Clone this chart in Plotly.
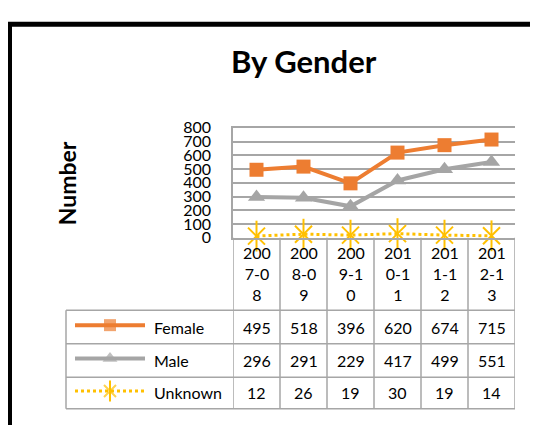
import plotly.graph_objects as go

periods = ["2007-08", "2008-09", "2009-10", "2010-11", "2011-12", "2012-13"]
female = [495, 518, 396, 620, 674, 715]
male = [296, 291, 229, 417, 499, 551]
unknown = [12, 26, 19, 30, 19, 14]
series_names = ["Female", "Male", "Unknown"]
y_ticks = [0, 100, 200, 300, 400, 500, 600, 700, 800]

W, H = 538, 426
OFF = 8  # page body margin, positions below are page pixels
# plot box in page pixels
PL, PR, PT, PB = 233, 515, 123, 238
TABLE_LEFT = 66
ROW_EDGES = [314, 349, 384, 417]
GRID = "#A6A6A6"
FONT = "Lato"

styles = [
    dict(color="#ED7D31", dash="solid", width=4, symbol="square", size=14, key_size=12),
    dict(color="#A5A5A5", dash="solid", width=4, symbol="triangle-up", size=15, key_size=13),
    dict(color="#FFC000", dash="dot", width=3, symbol="x-thin-open", size=17, key_size=12),
]
values = [female, male, unknown]


def wrap(label, n=3):
    return "<br>".join(label[i:i + n] for i in range(0, len(label), n))


def marker_line(st):
    return dict(color=st["color"], width=2 if "open" in st["symbol"] else 0)


fig = go.Figure()

for name, vals, st in zip(series_names, values, styles):
    fig.add_trace(go.Scatter(
        x=periods, y=vals, name=name, mode="lines+markers",
        line=dict(color=st["color"], width=st["width"], dash=st["dash"]),
        marker=dict(symbol=st["symbol"], size=st["size"], color=st["color"],
                    line=marker_line(st)),
        cliponaxis=False, showlegend=False,
    ))
# vertical stroke that turns the x into an Excel-style star
star = styles[2]["color"]
fig.add_trace(go.Scatter(
    x=periods, y=unknown, mode="markers", hoverinfo="skip", showlegend=False,
    marker=dict(symbol="line-ns-open", size=22, color=star, line=dict(color=star, width=2)),
    cliponaxis=False,
))

# legend keys inside the data table, drawn on a pixel-sized overlay axis
for i, st in enumerate(styles):
    ky = (ROW_EDGES[i] + ROW_EDGES[i + 1]) / 2 - 2
    fig.add_trace(go.Scatter(
        x=[75, 110, 145], y=[ky, ky, ky], xaxis="x2", yaxis="y2", mode="lines+markers",
        line=dict(color=st["color"], width=st["width"], dash=st["dash"]),
        marker=dict(symbol=st["symbol"], size=[0, st["key_size"], 0], color=st["color"],
                    line=marker_line(st)),
        showlegend=False, hoverinfo="skip",
    ))
    if i == 2:
        fig.add_trace(go.Scatter(
            x=[110], y=[ky], xaxis="x2", yaxis="y2", mode="markers",
            marker=dict(symbol="line-ns-open", size=15, color=star, line=dict(color=star, width=2)),
            showlegend=False, hoverinfo="skip",
        ))

shapes = []
# outer frame
shapes.append(dict(type="rect", xref="x2", yref="y2", x0=9.5, y0=14.5, x1=580, y1=470,
                   line=dict(color="black", width=5)))
# table lines
for y in ROW_EDGES:
    shapes.append(dict(type="line", xref="x2", yref="y2", x0=TABLE_LEFT, x1=PR, y0=y, y1=y,
                       line=dict(color=GRID, width=1.5)))
shapes.append(dict(type="line", xref="x2", yref="y2", x0=TABLE_LEFT, x1=TABLE_LEFT,
                   y0=ROW_EDGES[0], y1=ROW_EDGES[-1], line=dict(color=GRID, width=1.5)))
for k in range(len(periods) + 1):
    shapes.append(dict(type="line", xref="x", yref="y2", x0=k - 0.5, x1=k - 0.5,
                       y0=PB, y1=ROW_EDGES[-1], line=dict(color=GRID, width=1.5)))

annotations = []
for p in periods:
    annotations.append(dict(x=p, xref="x", y=(PB + ROW_EDGES[0]) / 2 - 1, yref="y2",
                            text=wrap(p), showarrow=False, yanchor="middle",
                            font=dict(family=FONT, size=16, color="black")))
for i, (name, vals) in enumerate(zip(series_names, values)):
    cy = (ROW_EDGES[i] + ROW_EDGES[i + 1]) / 2
    annotations.append(dict(x=152, xref="x2", y=cy, yref="y2", text=name, showarrow=False,
                            xanchor="left", yanchor="middle",
                            font=dict(family=FONT, size=16, color="black")))
    for p, v in zip(periods, vals):
        annotations.append(dict(x=p, xref="x", y=cy, yref="y2", text=str(v), showarrow=False,
                                yanchor="middle", font=dict(family=FONT, size=16, color="black")))

annotations.append(dict(x=67, xref="x2", y=181, yref="y2", text="<b>Number</b>", textangle=-90,
                        showarrow=False, font=dict(family=FONT, size=23, color="black")))
annotations.append(dict(x=304, xref="x2", y=53, yref="y2", text="<b>By Gender</b>",
                        showarrow=False, yanchor="middle",
                        font=dict(family=FONT, size=31, color="black")))

fig.update_layout(
    width=W, height=H,
    margin=dict(l=0, r=0, t=0, b=0),
    paper_bgcolor="white",
    plot_bgcolor="rgba(0,0,0,0)",
    font=dict(family=FONT, size=16, color="black"),
    xaxis=dict(domain=[(PL - OFF) / W, (PR - OFF) / W], type="category",
               range=[-0.5, len(periods) - 0.5],
               showticklabels=False, showgrid=False, zeroline=False,
               showline=True, mirror=True, linecolor=GRID, linewidth=1.5),
    yaxis=dict(domain=[(H - (PB - OFF)) / H, (H - (PT - OFF)) / H], range=[0, 800],
               tickvals=y_ticks,
               showgrid=True, gridcolor=GRID, gridwidth=1.5,
               zeroline=True, zerolinecolor="#8C8C8C", zerolinewidth=2,
               showline=True, linecolor=GRID, linewidth=1.5,
               ticks="", ticklabelstandoff=17,
               tickfont=dict(family=FONT, size=16, color="black")),
    xaxis2=dict(domain=[0, 1], range=[OFF, W + OFF], visible=False, fixedrange=True),
    yaxis2=dict(domain=[0, 1], range=[H + OFF, OFF], visible=False, fixedrange=True),
    shapes=shapes,
    annotations=annotations,
    showlegend=False,
)

fig.write_html("out.html")
